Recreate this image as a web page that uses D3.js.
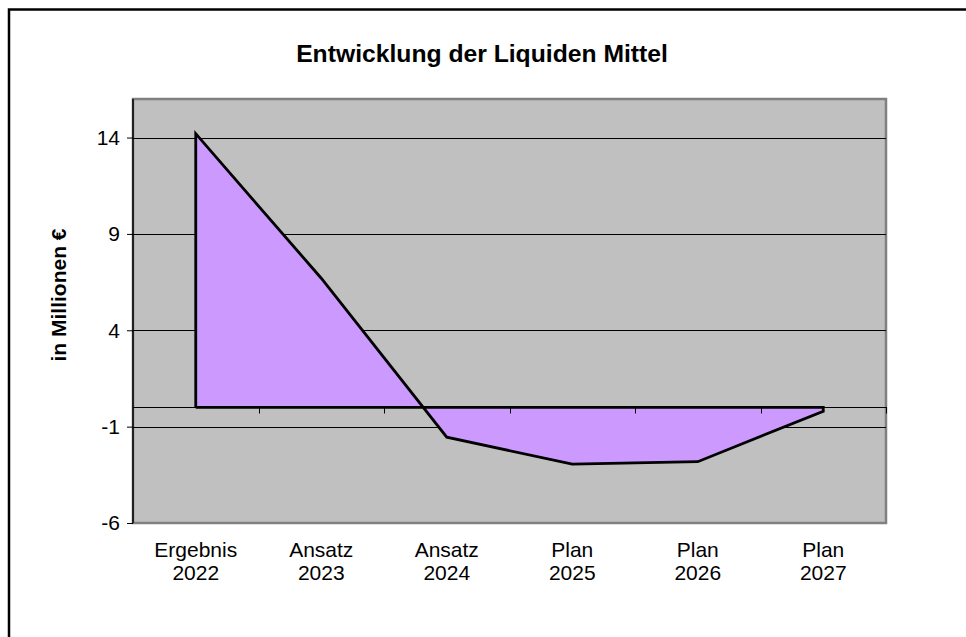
<!DOCTYPE html>
<html><head><meta charset="utf-8">
<script src="https://cdn.jsdelivr.net/npm/d3@7"></script>
<style>html,body{margin:0;padding:0;background:#fff;}svg{display:block;font-family:"Liberation Sans",Arial,sans-serif;}</style>
</head><body>
<script>
const categories = [["Ergebnis","2022"],["Ansatz","2023"],["Ansatz","2024"],["Plan","2025"],["Plan","2026"],["Plan","2027"]];
const values = [14.2, 6.7, -1.55, -2.94, -2.82, -0.2];
const yTicks = [-6, -1, 4, 9, 14];
const title = "Entwicklung der Liquiden Mittel";
const yLabel = "in Millionen €";

const W = 966, H = 637;
const svg = d3.select("body").append("svg").attr("width", W).attr("height", H);

// outer frame
svg.append("rect").attr("x", 9).attr("y", 9.5).attr("width", 1000).attr("height", 700)
  .attr("fill", "#fff").attr("stroke", "#000").attr("stroke-width", 2.5);

const L = 133, R = 886, T = 99, B = 523;
const x = d3.scaleBand().domain(d3.range(categories.length)).range([L, R]).paddingInner(0).paddingOuter(0);
const y = d3.scaleLinear().domain([-6, 16]).range([B, T]);

svg.append("rect").attr("x", L).attr("y", T).attr("width", R - L).attr("height", B - T)
  .attr("fill", "#c0c0c0").attr("stroke", "#808080").attr("stroke-width", 2.5);

// gridlines
svg.append("g").selectAll("line").data(yTicks.filter(d => d > -6)).join("line")
  .attr("x1", L).attr("x2", R).attr("y1", d => Math.round(y(d)) + 0.5).attr("y2", d => Math.round(y(d)) + 0.5)
  .attr("stroke", "#000").attr("stroke-width", 1);

// area
const cx = i => x(i) + x.bandwidth() / 2;
const area = d3.area().x((d, i) => cx(i)).y0(y(0)).y1(d => y(d));
const outline = d3.line().x(d => d[0]).y(d => d[1]);
const poly = [[cx(0), y(0)]].concat(values.map((v, i) => [cx(i), y(v)])).concat([[cx(values.length - 1), y(0)], [cx(0), y(0)]]);
svg.append("path").attr("d", area(values)).attr("fill", "#cc99ff").attr("stroke", "none");

// category axis at zero
const xAxisG = svg.append("g").attr("transform", `translate(0,${Math.round(y(0)) + 0.5})`);
xAxisG.append("line").attr("x1", L).attr("x2", R + 1).attr("stroke", "#000").attr("stroke-width", 1);
const bounds = d3.range(1, categories.length + 1).map(i => L + i * x.step());
xAxisG.selectAll("line.t").data(bounds).join("line").attr("class", "t")
  .attr("x1", d => Math.round(d) + 0.5).attr("x2", d => Math.round(d) + 0.5).attr("y1", 0).attr("y2", 6)
  .attr("stroke", "#000");

svg.append("path").attr("d", outline(poly)).attr("fill", "none").attr("stroke", "#000")
  .attr("stroke-width", 2.8).attr("stroke-linejoin", "miter");

// y axis
const yAxis = d3.axisLeft(y).tickValues(yTicks).tickSize(6).tickPadding(7).tickFormat(d => String(d));
const yg = svg.append("g").attr("transform", `translate(${L},0)`).call(yAxis);
yg.attr("font-size", 21).attr("font-family", "Liberation Sans, Arial, sans-serif");
yg.select(".domain").attr("stroke", "#000").attr("stroke-width", 1.5).attr("d", `M0,${T}V${B}`);
yg.selectAll(".tick line").attr("stroke", "#000");
yg.selectAll(".tick text").attr("fill", "#000");

// category labels
const cl = svg.append("g");
categories.forEach((c, i) => {
  const t = cl.append("text").attr("x", cx(i)).attr("y", 557).attr("text-anchor", "middle")
    .attr("font-size", 21).attr("fill", "#000");
  t.append("tspan").attr("x", cx(i)).attr("dy", 0).text(c[0]);
  t.append("tspan").attr("x", cx(i)).attr("dy", 23).text(c[1]);
});

svg.append("text").attr("x", 482).attr("y", 62).attr("text-anchor", "middle")
  .attr("font-size", 24.7).attr("font-weight", "bold").text(title);

svg.append("text").attr("transform", "translate(66,295) rotate(-90)").attr("text-anchor", "middle")
  .attr("font-size", 21).attr("font-weight", "bold").text(yLabel);
</script>
</body></html>
